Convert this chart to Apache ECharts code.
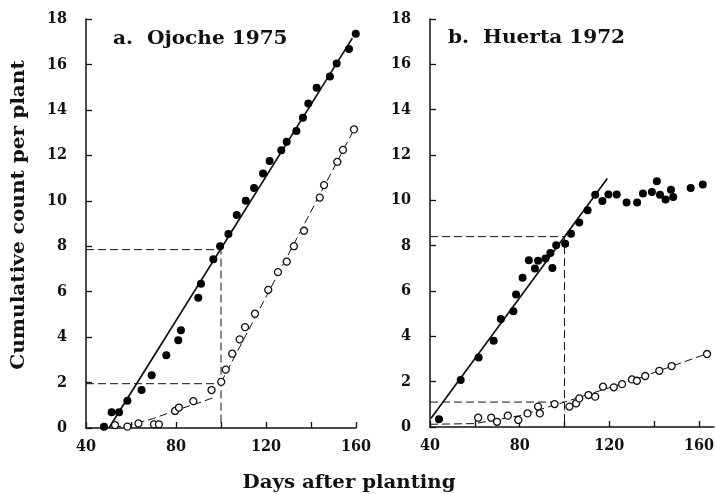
<!DOCTYPE html>
<html>
<head>
<meta charset="utf-8">
<script src="https://cdn.jsdelivr.net/npm/echarts@6/dist/echarts.min.js"></script>
<style>
  html, body { margin: 0; padding: 0; background: #fff; }
  #chart { width: 717px; height: 494px; }
</style>
</head>
<body>
<div id="chart"></div>
<script>
// ---------------- data ----------------
const tickDays = [40, 60, 80, 100, 120, 140, 160];
const labelDays = [40, 80, 120, 160];

// Panel a: Ojoche 1975
const ojocheFilledDays   = [48, 51.4, 54.7, 58.4, 64.7, 69.2, 75.7, 81, 82.2, 89.9, 91.1, 96.6, 99.6, 103.3, 107, 111, 114.7, 118.7, 121.6, 126.8, 129.2, 133.5, 136.4, 138.8, 142.5, 148.4, 151.4, 156.9, 159.9];
const ojocheFilledCounts = [0.06, 0.69, 0.69, 1.2, 1.67, 2.32, 3.2, 3.86, 4.3, 5.73, 6.35, 7.43, 8.0, 8.54, 9.37, 10.0, 10.56, 11.2, 11.75, 12.22, 12.6, 13.07, 13.65, 14.28, 14.97, 15.47, 16.04, 16.68, 17.35];
const ojocheOpenDays   = [52.9, 58.4, 63.3, 70.2, 72.4, 79.6, 81.3, 87.7, 95.8, 100.1, 102.1, 105, 108.3, 110.7, 115.1, 121, 125.3, 129.2, 132.4, 136.9, 143.9, 145.8, 151.7, 154.2, 159.1];
const ojocheOpenCounts = [0.13, 0.06, 0.2, 0.16, 0.16, 0.75, 0.9, 1.18, 1.67, 2.03, 2.57, 3.27, 3.9, 4.44, 5.03, 6.08, 6.86, 7.32, 8.0, 8.68, 10.14, 10.69, 11.71, 12.24, 13.14];
const ojocheFitDays   = [50.2, 158.4];
const ojocheFitCounts = [0, 17.16];
const ojocheCurveDays   = [52, 60, 70, 80, 90, 97, null, 100, 160];
const ojocheCurveCounts = [0.02, 0.15, 0.42, 0.78, 1.1, 1.35, null, 2.0, 13.3];
const ojocheGuideDays   = [40, 100, 100];
const ojocheGuideCounts = [7.85, 7.85, 0];
const ojocheLowGuideDays   = [40, 100];
const ojocheLowGuideCounts = [1.95, 1.95];

// Panel b: Huerta 1972
const huertaFilledDays   = [44, 53.7, 61.7, 68.4, 71.6, 77.2, 78.4, 81.3, 84.1, 86.8, 88.2, 91.5, 93.7, 94.6, 96.3, 100.3, 102.9, 106.6, 110.3, 113.7, 116.9, 119.6, 123.3, 127.7, 132.4, 135, 139, 141.2, 142.6, 145.1, 147.5, 148.5, 156.3, 161.7];
const huertaFilledCounts = [0.34, 2.07, 3.07, 3.8, 4.76, 5.11, 5.85, 6.59, 7.36, 6.99, 7.33, 7.43, 7.68, 7.02, 8.02, 8.09, 8.53, 9.02, 9.56, 10.25, 9.97, 10.26, 10.26, 9.9, 9.9, 10.3, 10.37, 10.84, 10.25, 10.04, 10.47, 10.15, 10.54, 10.7];
const huertaOpenDays   = [61.5, 67.3, 69.9, 74.7, 79.4, 83.5, 88.2, 89, 95.6, 102.2, 105.2, 106.6, 110.7, 113.7, 117.2, 122, 125.7, 130.1, 132.3, 136, 142.3, 147.8, 163.6];
const huertaOpenCounts = [0.41, 0.41, 0.23, 0.5, 0.31, 0.6, 0.9, 0.6, 1.01, 0.9, 1.04, 1.26, 1.41, 1.34, 1.78, 1.75, 1.89, 2.1, 2.04, 2.25, 2.48, 2.69, 3.22];
const huertaFitDays   = [40.4, 119.1];
const huertaFitCounts = [0.38, 10.96];
const huertaCurveDays   = [40, 60, 80, 100, 130, 164];
const huertaCurveCounts = [0.12, 0.15, 0.5, 1.1, 2.05, 3.25];
const huertaGuideDays   = [40, 100, 100];
const huertaGuideCounts = [8.4, 8.4, 0];
const huertaLowGuideDays   = [40, 100];
const huertaLowGuideCounts = [1.1, 1.1];

// ---------------- helpers ----------------
function zip(xs, ys) {
  return xs.map((x, i) => (x === null ? '-' : [x, ys[i]]));
}
const FONT = '"DejaVu Serif Condensed", "DejaVu Serif", serif';
const INK = '#111111';

function xAxisCfg(idx, max) {
  return {
    type: 'value', gridIndex: idx, min: 40, max: max, interval: 20,
    axisLine: { show: true, onZero: false, lineStyle: { color: INK, width: 1.5 } },
    axisTick: { show: true, inside: true, length: 6, customValues: tickDays, lineStyle: { color: INK, width: 1.3 } },
    axisLabel: { customValues: labelDays, margin: 11, color: INK, fontFamily: FONT, fontWeight: 'bold', fontSize: 16 },
    splitLine: { show: false }
  };
}
function yAxisCfg(idx) {
  return {
    type: 'value', gridIndex: idx, min: 0, max: 18, interval: 2,
    axisLine: { show: true, onZero: false, lineStyle: { color: INK, width: 1.5 } },
    axisTick: { show: true, inside: true, length: 6, lineStyle: { color: INK, width: 1.3 } },
    axisLabel: { margin: 19, color: INK, fontFamily: FONT, fontWeight: 'bold', fontSize: 16, padding: [9, 0, 0, 0] },
    splitLine: { show: false }
  };
}
function filled(idx, xs, ys) {
  return { type: 'scatter', xAxisIndex: idx, yAxisIndex: idx, data: zip(xs, ys), symbol: 'circle', symbolSize: 8,
    itemStyle: { color: '#000', opacity: 1 }, z: 5, silent: true };
}
function open(idx, xs, ys) {
  return { type: 'scatter', xAxisIndex: idx, yAxisIndex: idx, data: zip(xs, ys), symbol: 'circle', symbolSize: 7,
    itemStyle: { color: '#fff', borderColor: INK, borderWidth: 1.3, opacity: 1 }, z: 5, silent: true };
}
function line(idx, xs, ys, dashed, width) {
  return { type: 'line', xAxisIndex: idx, yAxisIndex: idx, data: zip(xs, ys), showSymbol: false, symbol: 'none',
    connectNulls: false, silent: true, animation: false,
    lineStyle: { color: INK, width: width, type: dashed ? [8, 4] : 'solid' }, z: 3 };
}
function label(text, x, y, align, scaleX, rotation) {
  return { type: 'text', x: x, y: y, scaleX: scaleX, rotation: rotation || 0, silent: true,
    style: { text: text, fontFamily: FONT, fontWeight: 'bold', fontSize: 18, fill: INK, align: align, verticalAlign: 'middle' } };
}

const option = {
  animation: false,
  backgroundColor: '#ffffff',
  grid: [
    { left: 86, top: 19, width: 270, height: 409 },
    { left: 430, top: 19, width: 285, height: 408 }
  ],
  xAxis: [xAxisCfg(0, 160), xAxisCfg(1, 166.7)],
  yAxis: [yAxisCfg(0), yAxisCfg(1)],
  graphic: [
    label('a.  Ojoche 1975', 113, 39, 'left', 1.24),
    label('b.  Huerta 1972', 448, 38, 'left', 1.24),
    label('Days after planting', 349, 483, 'center', 1.22),
    label('Cumulative count per plant', 19, 215, 'center', 1.24, Math.PI / 2)
  ],
  series: [
    line(0, ojocheGuideDays, ojocheGuideCounts, true, 1),
    line(0, ojocheLowGuideDays, ojocheLowGuideCounts, true, 1),
    line(0, ojocheFitDays, ojocheFitCounts, false, 1.7),
    line(0, ojocheCurveDays, ojocheCurveCounts, true, 1),
    filled(0, ojocheFilledDays, ojocheFilledCounts),
    open(0, ojocheOpenDays, ojocheOpenCounts),

    line(1, huertaGuideDays, huertaGuideCounts, true, 1),
    line(1, huertaLowGuideDays, huertaLowGuideCounts, true, 1),
    line(1, huertaFitDays, huertaFitCounts, false, 1.7),
    line(1, huertaCurveDays, huertaCurveCounts, true, 1),
    filled(1, huertaFilledDays, huertaFilledCounts),
    open(1, huertaOpenDays, huertaOpenCounts)
  ]
};

const chart = echarts.init(document.getElementById('chart'), null, { renderer: 'canvas' });
chart.setOption(option);
</script>
</body>
</html>
